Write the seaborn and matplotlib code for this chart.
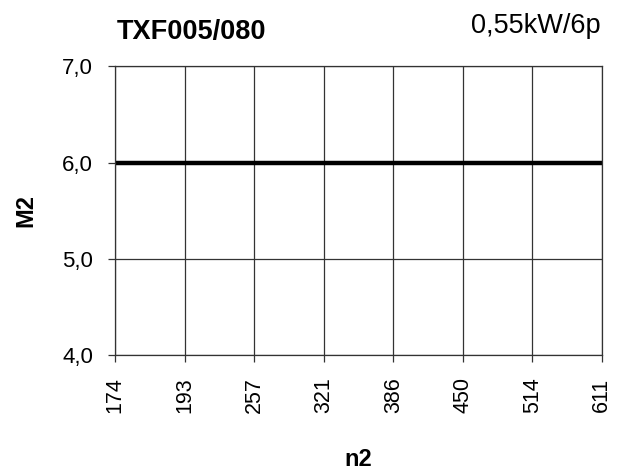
import pandas as pd
import seaborn as sns
import matplotlib.pyplot as plt

# speeds n2 (categorical, evenly spaced) and torque M2
n2 = ["174", "193", "257", "321", "386", "450", "514", "611"]
m2 = [6.0, 6.0, 6.0, 6.0, 6.0, 6.0, 6.0, 6.0]
y_ticks = [4.0, 5.0, 6.0, 7.0]
y_labels = ["4,0", "5,0", "6,0", "7,0"]

df = pd.DataFrame({"n2": n2, "M2": m2})

sns.set_style("white")
plt.rcParams["font.family"] = ["Liberation Sans", "DejaVu Sans"]
plt.rcParams["text.color"] = "black"
plt.rcParams["xtick.color"] = "black"
plt.rcParams["ytick.color"] = "black"
plt.rcParams["axes.labelcolor"] = "black"

fig = plt.figure(figsize=(6.23, 4.73), dpi=100)
ax = fig.add_axes([0.185, 0.249, 0.781, 0.611])

sns.lineplot(data=df, x="n2", y="M2", color="black", linewidth=3.2, ax=ax, sort=False)

ax.set_xlim(0, len(n2) - 1)
ax.set_ylim(4.0, 7.0)
ax.set_yticks(y_ticks)
ax.set_yticklabels(y_labels)
ax.set_xticks(range(len(n2)))
ax.set_xticklabels(n2, rotation=90)

ax.grid(True, color="#333333", linewidth=0.9)
for s in ax.spines.values():
    s.set_color("#333333")
    s.set_linewidth(0.9)
ax.tick_params(axis="both", bottom=True, left=True, direction="out", length=5,
               width=0.9, color="#333333", labelsize=16, pad=11)
ax.tick_params(axis="x", labelsize=15.5, pad=11)

ax.set_xlabel("n2", fontsize=17, fontweight="bold", labelpad=25)
ax.set_ylabel("M2", fontsize=17, fontweight="bold", labelpad=18)

fig.text(0.188, 0.932, "TXF005/080", fontsize=19.5, fontweight="bold", ha="left", va="center")
fig.text(0.964, 0.945, "0,55kW/6p", fontsize=19.5, ha="right", va="center")

fig.savefig("out.png", dpi=100)
